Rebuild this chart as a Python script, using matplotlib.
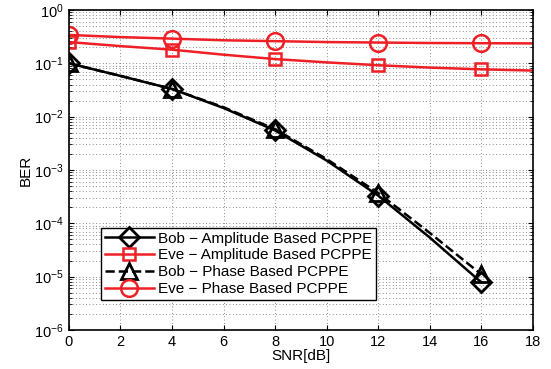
import numpy as np
import matplotlib
matplotlib.use('Agg')
import matplotlib.pyplot as plt

plt.rcParams['font.family'] = 'sans-serif'
plt.rcParams['font.sans-serif'] = ['Liberation Sans', 'DejaVu Sans']
plt.rcParams['mathtext.fontset'] = 'custom'
plt.rcParams['mathtext.rm'] = 'Liberation Sans'

# SNR axis (dB)
snr_bob = [0, 2, 4, 6, 8, 10, 12, 14, 16]
snr_eve = [0, 2, 4, 6, 8, 10, 12, 14, 16, 18]

# BER values
ber_bob_amp = [0.1, 0.058, 0.033, 0.0145, 0.0055, 0.0015, 3.3e-4, 5.4e-5, 7.8e-6]
ber_eve_amp = [0.25, 0.21, 0.18, 0.145, 0.12, 0.104, 0.092, 0.083, 0.077, 0.073]
ber_bob_phase = [0.1, 0.058, 0.033, 0.015, 0.0058, 0.0016, 3.7e-4, 6.6e-5, 1.1e-5]
ber_eve_phase = [0.34, 0.31, 0.29, 0.27, 0.26, 0.25, 0.245, 0.24, 0.238, 0.236]

labels = ['Bob \u2212 Amplitude Based PCPPE', 'Eve \u2212 Amplitude Based PCPPE',
          'Bob \u2212 Phase Based PCPPE', 'Eve \u2212 Phase Based PCPPE']

red = '#ee2026'
mk = [0, 2, 4, 6, 8]

fig = plt.figure(figsize=(5.51, 3.69), dpi=100)
ax = fig.add_axes([0.125, 0.106, 0.842, 0.867])

ax.semilogy(snr_bob, ber_bob_amp, '-', color='black', lw=1.8, marker='D', ms=10,
            mfc='none', mew=2.0, markevery=mk, label=labels[0])
ax.semilogy(snr_eve, ber_eve_amp, '-', color=red, lw=1.8, marker='s', ms=9,
            mfc='none', mew=1.8, markevery=mk, label=labels[1])
ax.semilogy(snr_bob, ber_bob_phase, '--', color='black', lw=1.8, marker='^', ms=12,
            mfc='none', mew=2.0, markevery=mk, label=labels[2])
ax.semilogy(snr_eve, ber_eve_phase, '-', color=red, lw=1.8, marker='o', ms=12,
            mfc='none', mew=1.8, markevery=mk, label=labels[3])

ax.set_xlim(0, 18)
ax.set_ylim(1e-6, 1)
ax.set_xticks(np.arange(0, 19, 2))
ax.set_xlabel('SNR[dB]', fontsize=11, labelpad=0)
ax.set_ylabel('BER', fontsize=11, labelpad=1)

ax.grid(True, which='major', ls=(0, (1, 3)), color='#666666', lw=0.6)
ax.grid(True, which='minor', axis='y', ls=(0, (1, 3)), color='#666666', lw=0.6)
ax.tick_params(which='both', direction='in', top=True, right=True, labelsize=10.5)
for s in ax.spines.values():
    s.set_linewidth(1.2)

leg = ax.legend(loc='lower left', bbox_to_anchor=(0.069, 0.094), fontsize=11,
                fancybox=False, framealpha=1, edgecolor='black',
                handlelength=3.2, borderpad=0.25, labelspacing=0.18,
                handletextpad=0.3, borderaxespad=0)
leg.get_frame().set_linewidth(1.0)

fig.savefig('out.png', dpi=100)
